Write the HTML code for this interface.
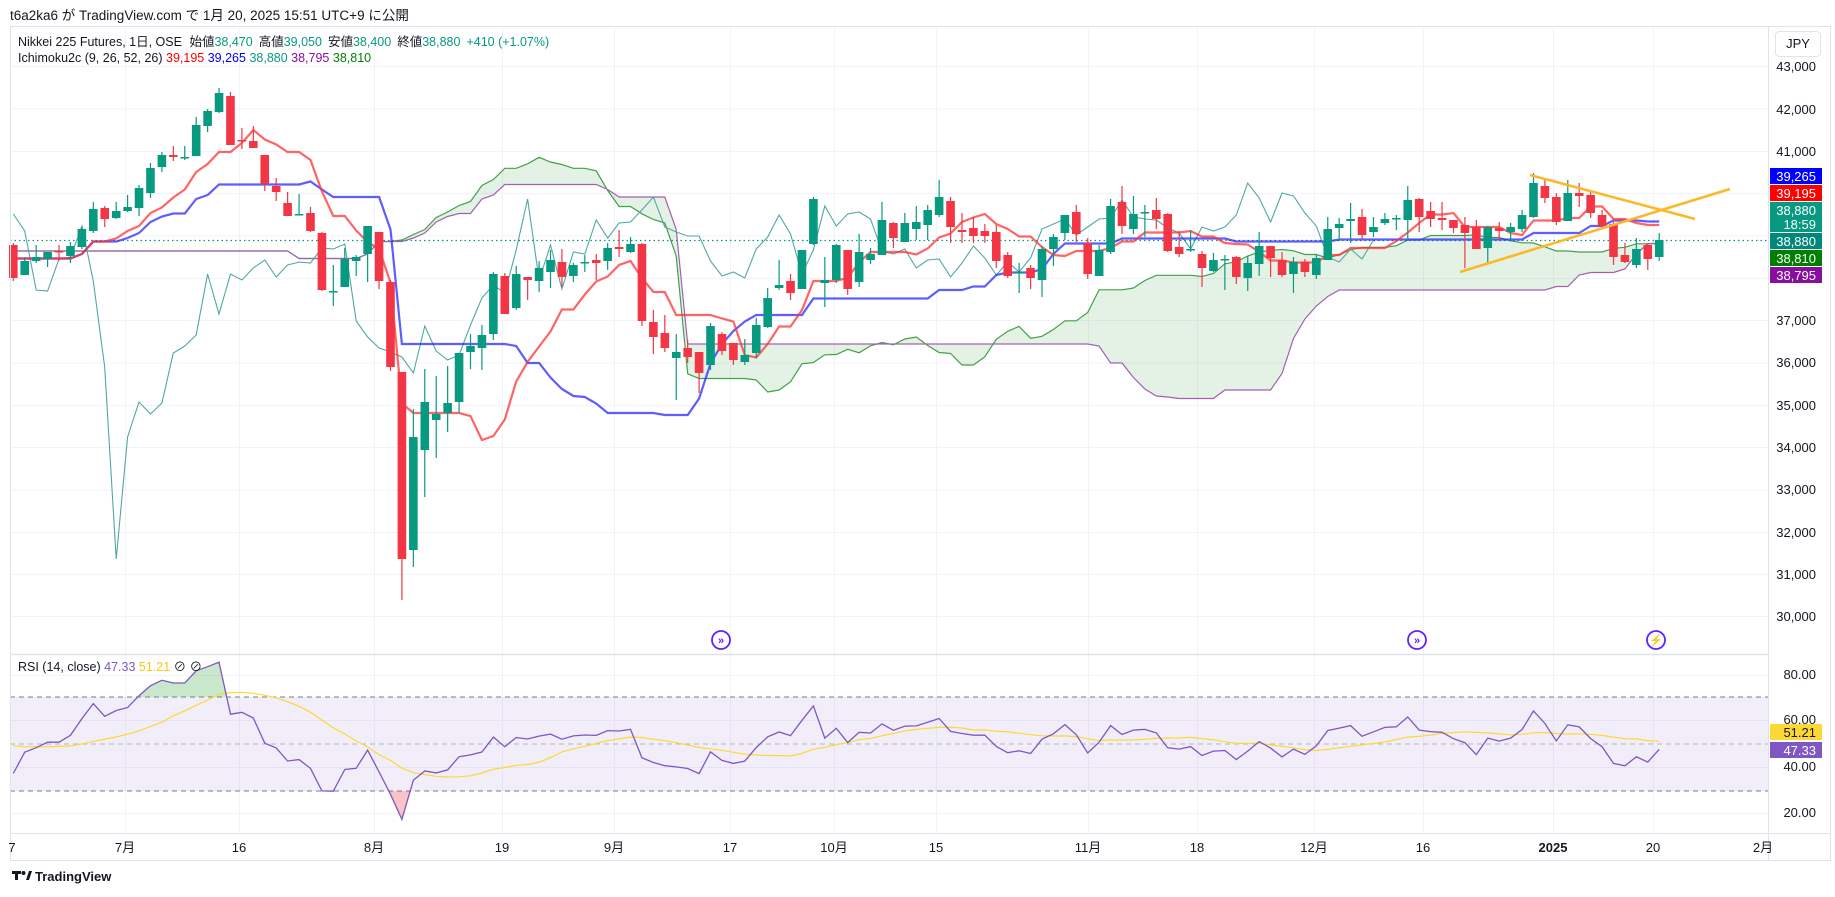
<!DOCTYPE html>
<html><head><meta charset="utf-8">
<style>
html,body{margin:0;padding:0;background:#fff;}
body{width:1835px;height:897px;overflow:hidden;font-family:"Liberation Sans","Noto Sans CJK JP",sans-serif;}
svg{display:block;}
text{font-family:"Liberation Sans","Noto Sans CJK JP",sans-serif;}
</style></head>
<body>
<svg id="s" width="1835" height="897" viewBox="0 0 1835 897" xmlns="http://www.w3.org/2000/svg">
<rect x="0" y="0" width="1835" height="897" fill="#fff"/>
<g id="grid"></g>
<g id="cloud"></g>
<g id="lines"></g>
<g id="candles"></g>
<g id="rsi"></g>
<!-- frame -->
<rect x="10.5" y="26.5" width="1820" height="834" fill="none" stroke="#e0e3eb"/>
<line x1="10" y1="654.5" x2="1768" y2="654.5" stroke="#e0e3eb" stroke-width="1.5"/>
<line x1="10" y1="833.5" x2="1831" y2="833.5" stroke="#e0e3eb"/>
<line x1="1768.5" y1="26" x2="1768.5" y2="860" stroke="#e0e3eb"/>
<!-- header -->
<text x="10" y="20" font-size="13.5" fill="#131722">t6a2ka6 が TradingView.com で 1月 20, 2025 15:51 UTC+9 に公開</text>
<text x="18" y="46" font-size="12.5" fill="#131722">Nikkei 225 Futures, 1日, OSE <tspan dx="4">始値</tspan><tspan fill="#089981">38,470</tspan><tspan dx="6">高値</tspan><tspan fill="#089981">39,050</tspan><tspan dx="6">安値</tspan><tspan fill="#089981">38,400</tspan><tspan dx="6">終値</tspan><tspan fill="#089981">38,880</tspan><tspan dx="6" fill="#089981">+410 (+1.07%)</tspan></text>
<text x="18" y="62" font-size="12.5" fill="#131722">Ichimoku2c (9, 26, 52, 26) <tspan fill="#ff0000">39,195</tspan> <tspan fill="#0000ff">39,265</tspan> <tspan fill="#089981">38,880</tspan> <tspan fill="#880e9f">38,795</tspan> <tspan fill="#008000">38,810</tspan></text>
<text x="18" y="671" font-size="12.5" fill="#131722">RSI (14, close) <tspan fill="#7e57c2">47.33</tspan> <tspan fill="#f9c80e">51.21</tspan> ⊘ ⊘</text>
<!-- JPY -->
<rect x="1775.5" y="31.5" width="45" height="25" rx="4" fill="#fff" stroke="#e0e3eb"/>
<text x="1798" y="48" font-size="13" fill="#131722" text-anchor="middle">JPY</text>
<!-- price axis labels -->
<g font-size="13" fill="#131722" text-anchor="end">
<text x="1816" y="71">43,000</text>
<text x="1816" y="114">42,000</text>
<text x="1816" y="156">41,000</text>
<text x="1816" y="325">37,000</text>
<text x="1816" y="367">36,000</text>
<text x="1816" y="410">35,000</text>
<text x="1816" y="452">34,000</text>
<text x="1816" y="494">33,000</text>
<text x="1816" y="537">32,000</text>
<text x="1816" y="579">31,000</text>
<text x="1816" y="621">30,000</text>
<text x="1816" y="679">80.00</text>
<text x="1816" y="724">60.00</text>
<text x="1816" y="771">40.00</text>
<text x="1816" y="817">20.00</text>
</g>
<!-- price boxes -->
<g font-size="13" fill="#fff" text-anchor="end">
<rect x="1770" y="168" width="52" height="16" fill="#0000ff"/><text x="1816" y="181">39,265</text>
<rect x="1770" y="185" width="52" height="16" fill="#ff0000"/><text x="1816" y="198">39,195</text>
<rect x="1770" y="202" width="52" height="30" fill="#089981"/><text x="1816" y="215">38,880</text><text x="1816" y="229">18:59</text>
<rect x="1770" y="233" width="52" height="16" fill="#00897b"/><text x="1816" y="246">38,880</text>
<rect x="1770" y="250" width="52" height="16" fill="#008000"/><text x="1816" y="263">38,810</text>
<rect x="1770" y="267" width="52" height="16" fill="#880e9f"/><text x="1816" y="280">38,795</text>
<rect x="1770" y="724" width="52" height="16" fill="#fdd835"/><text x="1816" y="737" fill="#131722">51.21</text>
<rect x="1770" y="742" width="52" height="16" fill="#7e57c2"/><text x="1816" y="755">47.33</text>
</g>
<!-- time axis -->
<g font-size="13" fill="#131722" text-anchor="middle">
<text x="12" y="852">7</text>
<text x="125" y="852">7月</text>
<text x="239" y="852">16</text>
<text x="374" y="852">8月</text>
<text x="502" y="852">19</text>
<text x="614" y="852">9月</text>
<text x="730" y="852">17</text>
<text x="834" y="852">10月</text>
<text x="936" y="852">15</text>
<text x="1088" y="852">11月</text>
<text x="1197" y="852">18</text>
<text x="1314" y="852">12月</text>
<text x="1423" y="852">16</text>
<text x="1553" y="852" font-weight="bold">2025</text>
<text x="1653" y="852">20</text>
<text x="1763" y="852">2月</text>
</g>
<!-- event icons -->
<g fill="#fff" stroke="#651fff" stroke-width="1.8">
<circle cx="721" cy="640" r="9"/><circle cx="1417" cy="640" r="9"/><circle cx="1656" cy="640" r="9"/>
</g>
<g font-size="11" fill="#651fff" text-anchor="middle" font-weight="bold">
<text x="721" y="644">»</text><text x="1417" y="644">»</text><text x="1656" y="644">⚡</text>
</g>
<!-- logo -->
<g>
<rect x="12" y="871" width="9" height="3" fill="#131722"/><rect x="15" y="871" width="3" height="9" fill="#131722"/>
<circle cx="23.5" cy="873" r="2" fill="#131722"/>
<path d="M26 880 L29 871 L32 871 L29 880 Z" fill="#131722"/>
<text x="35" y="881" font-size="13" font-weight="bold" fill="#131722">TradingView</text>
</g>
</svg>
<script>
(function(){
var NS="http://www.w3.org/2000/svg";
function el(p,t,a){var e=document.createElementNS(NS,t);for(var k in a)e.setAttribute(k,a[k]);p.appendChild(e);return e;}
var D=[[245,278,243,281],[275,261,257,275],[261,257,245,263],[259,252,252,267],[251,252,245,261],[256,246,242,263],[247,229,227,249],[231,209,202,233],[208,219,206,227],[218,211,202,219],
[211,207,195,212],[208,188,185,216],[193,168,163,198],[167,155,152,172],[155,157,146,161],[157.5,157,146,160],[156,125,117,156],[126,111,109,132],[112,93,88,113],[96,145,92,145],
[140,141,128,149],[141,148,126,148],[155,184,155,191],[186,192,178,201],[203,216,192,216],[214,214,194,214],[213,231,207,232],[233,290,232,291],[291,291,265,306],[287,259,248,287],
[261,257,255,276],[254,226,226,282],[232,281,232,289],[282,367,280,371],[372,559,372,600],[550,437,409,567],[450,402,369,497],[420,414,376,458],[413,403,366,432],[402,353,353,413],
[352,346,334,369],[348,335,325,370],[334,274,272,340],[276,314,273,314],[308,274,266,310],[277,280,277,300],[281,268,261,292],[272,260,250,288],[262,277,249,287],[276,265,263,282],
[262,262,255,272],[260,263,254,280],[261,248,243,270],[247,249,230,257],[252,244,237,253],[244,321,243,326],[322,337,310,354],[333,348,315,352],[358,352,334,400],[348,357,340,363],
[352,373,352,393],[365,326,323,370],[334,351,332,355],[343,360,343,365],[362,355,339,365],[353,325,318,358],[327,298,288,328],[288,285,260,290],[281,293,274,300],[289,250,250,289],
[244,199,197,245],[283,280,257,307],[280,245,244,283],[250,289,250,295],[282,252,234,287],[260,254,248,264],[255,220,202,255],[223,238,222,248],[242,223,213,242],[229,222,206,240],
[225,210,205,240],[215,197,180,217],[201,227,197,243],[230,232,213,243],[228,236,217,243],[231,236,224,243],[232,261,225,268],[255,276,252,278],[272,272,263,293],[268,278,265,289],
[280,249,246,297],[249,237,234,266],[233,215,215,240],[212,234,205,242],[243,274,238,279],[276,250,245,276],[252,206,199,254],[202,226,186,234],[229,214,196,234],[212,212,205,237],
[210,219,198,229],[214,251,213,252],[247,254,231,257],[249,249,230,252],[254,268,251,287],[271,260,253,272],[259,259,255,290],[257,277,256,284],[278,263,256,291],[264,246,232,276],
[246,258,246,277],[260,275,252,277],[274,262,257,293],[262,272,259,277],[275,258,254,279],[260,229,217,260],[228,224,218,241],[221,219,203,243],[217,235,209,239],[232,227,217,237],
[223,219,213,225],[218,218,215,230],[220,200,186,240],[199,217,198,232],[211,219,202,227],[218,220,202,230],[220,228,220,233],[225,233,217,268],[227,249,220,249],[248,227,226,263],
[228,231,222,240],[232,227,223,240],[229,215,210,232],[217,183,173,218],[186,198,178,203],[197,222,193,225],[221,193,180,221],[193,196,183,207],[195,213,191,218],[215,226,210,228],
[224,257,222,265],[255,262,243,263],[265,249,238,268],[245,259,244,270],[257,240,233,261]];
var N=D.length;
function X(i){return 13.3+i*11.43;}
var L0=10,R0=1768;
var s=document.getElementById('s');
var g=document.getElementById('grid');
// grids
var hp=[66,108.5,151,193,235.5,278,320,362.5,405,447,489.5,532,574,616];
hp.forEach(function(y){el(g,'line',{x1:L0,y1:y+.5,x2:R0,y2:y+.5,stroke:'#f0f3fa'});});
[675,720,767,813].forEach(function(y){el(g,'line',{x1:L0,y1:y+.5,x2:R0,y2:y+.5,stroke:'#f0f3fa'});});
[125,239,374,502,614,730,834,936,1088,1197,1314,1423,1553,1653].forEach(function(x){el(g,'line',{x1:x+.5,y1:27,x2:x+.5,y2:833,stroke:'#f0f3fa'});});
// padded arrays
var P=80,H=[],Lo=[],C=[];
for(var k=0;k<P;k++){H.push(236);Lo.push(266);C.push(k%2?248:254);}
D.forEach(function(d){H.push(d[2]);Lo.push(d[3]);C.push(d[1]);});
function mid(k,n){var mn=1e9,mx=-1e9;for(var j=k-n+1;j<=k;j++){mn=Math.min(mn,H[j]);mx=Math.max(mx,Lo[j]);}return (mn+mx)/2;}
var T=[],K=[],A=[],B=[],CH=[];
for(var i=0;i<N;i++){var k=i+P;T.push(mid(k,9));K.push(mid(k,26));
 A.push((mid(k-25,9)+mid(k-25,26))/2);B.push(mid(k-25,52));
 if(i+25<N)CH.push(D[i+25][1]);}
function pts(arr,off){return arr.map(function(v,i){return X(i+(off||0)).toFixed(1)+','+v.toFixed(1);}).join(' ');}
var cl=document.getElementById('cloud');
var poly=pts(A)+' '+B.map(function(v,i){return [X(i).toFixed(1),v.toFixed(1)];}).reverse().map(function(p){return p.join(',');}).join(' ');
el(cl,'polygon',{points:poly,fill:'rgba(67,160,71,0.14)'});
var ln=document.getElementById('lines');
el(ln,'polyline',{points:pts(A),fill:'none',stroke:'#43a047',"stroke-width":1.2});
el(ln,'polyline',{points:pts(B),fill:'none',stroke:'#a35fb0',"stroke-width":1.2});
el(ln,'polyline',{points:pts(CH),fill:'none',stroke:'#4fa8a5',"stroke-width":1.1});
el(ln,'line',{x1:L0,y1:240.5,x2:R0,y2:240.5,stroke:'#089981',"stroke-width":1.2,"stroke-dasharray":"1.5,3"});
el(ln,'polyline',{points:pts(K),fill:'none',stroke:'rgba(40,40,255,0.75)',"stroke-width":2.2});
el(ln,'polyline',{points:pts(T),fill:'none',stroke:'rgba(255,50,50,0.75)',"stroke-width":2.2});
var cg=document.getElementById('candles');
D.forEach(function(d,i){var x=X(i),up=d[1]<=d[0],col=up?'#089981':'#f23645';
 el(cg,'line',{x1:x,y1:d[2],x2:x,y2:d[3],stroke:col,"stroke-width":1.2});
 var t=Math.min(d[0],d[1]),h=Math.max(1.5,Math.abs(d[0]-d[1]));
 el(cg,'rect',{x:x-4.3,y:t,width:8.6,height:h,fill:col});});
// trend lines
el(cg,'line',{x1:1530,y1:175,x2:1695,y2:219,stroke:'#fbb829',"stroke-width":2.6});
el(cg,'line',{x1:1460,y1:272,x2:1730,y2:189,stroke:'#fbb829',"stroke-width":2.6});
// RSI
var r=document.getElementById('rsi');
function RY(v){return 697+(70-v)*2.35;}
el(r,'rect',{x:L0,y:RY(70),width:R0-L0,height:RY(30)-RY(70),fill:'rgba(126,87,194,0.1)'});
el(r,'line',{x1:L0,y1:RY(70),x2:R0,y2:RY(70),stroke:'#787b86',"stroke-dasharray":"5,4"});
el(r,'line',{x1:L0,y1:RY(30),x2:R0,y2:RY(30),stroke:'#787b86',"stroke-dasharray":"5,4"});
el(r,'line',{x1:L0,y1:RY(50),x2:R0,y2:RY(50),stroke:'#b2b5be',"stroke-dasharray":"5,4"});
function pr(y){return 43000-(y-66)/0.0423;}
var cp=C.map(pr);var ag=0,al=0,rs=[],n=14;
for(var k=1;k<cp.length;k++){var ch=cp[k]-cp[k-1],gn=Math.max(ch,0),ls=Math.max(-ch,0);
 if(k<=n){ag+=gn/n;al+=ls/n;}else{ag=(ag*(n-1)+gn)/n;al=(al*(n-1)+ls)/n;}
 rs[k]=al==0?100:100-100/(1+ag/al);}
var RV=[],MA=[];
for(var i=0;i<N;i++){var k=i+P;RV.push(rs[k]);var sm=0;for(var j=0;j<14;j++)sm+=rs[k-j];MA.push(sm/14);}
var rp=RV.map(function(v,i){return X(i).toFixed(1)+','+RY(v).toFixed(1);}).join(' ');
var defs=el(s,'defs',{});
var c1=el(defs,'clipPath',{id:'ob'});el(c1,'rect',{x:0,y:0,width:1835,height:RY(70)});
var c2=el(defs,'clipPath',{id:'os'});el(c2,'rect',{x:0,y:RY(30),width:1835,height:200});
el(r,'polygon',{points:X(0)+','+RY(70)+' '+rp+' '+X(N-1)+','+RY(70),fill:'rgba(76,175,80,0.3)',"clip-path":"url(#ob)"});
el(r,'polygon',{points:X(0)+','+RY(30)+' '+rp+' '+X(N-1)+','+RY(30),fill:'rgba(242,54,69,0.3)',"clip-path":"url(#os)"});
el(r,'polyline',{points:MA.map(function(v,i){return X(i).toFixed(1)+','+RY(v).toFixed(1);}).join(' '),fill:'none',stroke:'#fdd835',"stroke-width":1.2});
el(r,'polyline',{points:rp,fill:'none',stroke:'#7e57c2',"stroke-width":1.3});
})();
</script>
</body></html>
